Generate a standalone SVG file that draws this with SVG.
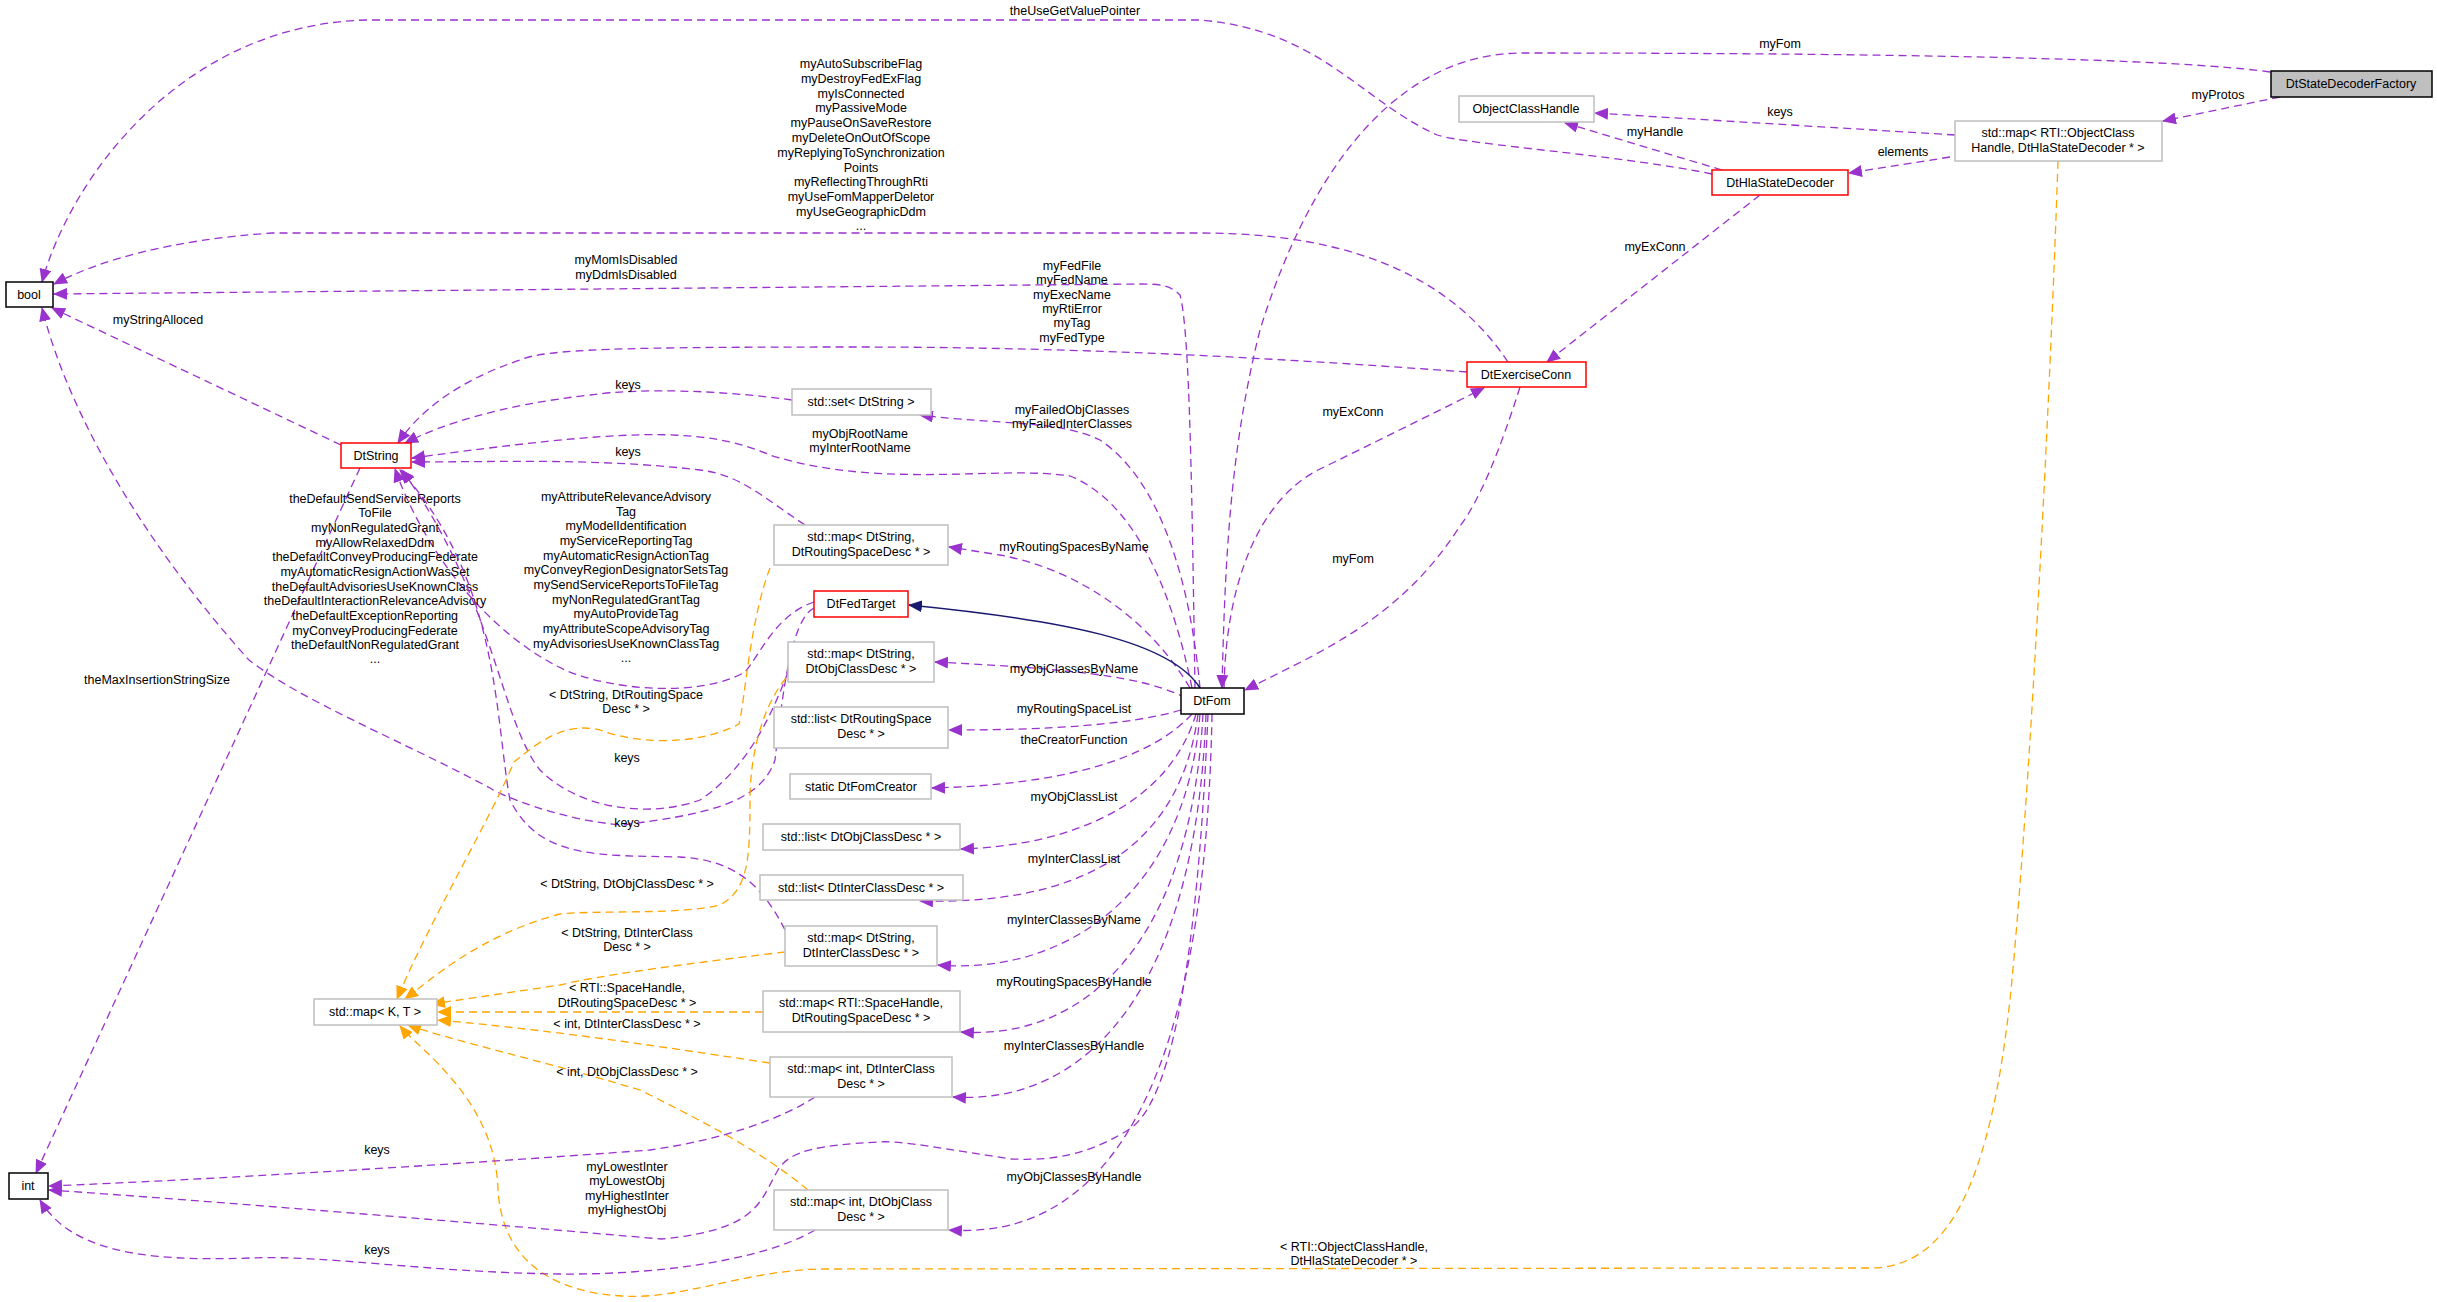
<svg xmlns="http://www.w3.org/2000/svg" width="2437" height="1302" viewBox="0 0 2437 1302">
<style>
text{font-family:"Liberation Sans",Arial,sans-serif;font-size:12.5px;fill:#000;text-anchor:middle}
.n{fill:#fff;stroke:#bfbfbf;stroke-width:1.5}
.r{fill:#fff;stroke:#ff0000;stroke-width:1.5}
.b{fill:#fff;stroke:#000;stroke-width:1.5}
.g{fill:#bfbfbf;stroke:#000;stroke-width:1.5}
.p{fill:none;stroke:#9a32cd;stroke-width:1.3;stroke-dasharray:8,5}
.o{fill:none;stroke:#ffa500;stroke-width:1.3;stroke-dasharray:8,5}
.i{fill:none;stroke:#191970;stroke-width:1.5}
</style>
<defs>
<marker id="ap" markerWidth="14" markerHeight="12" refX="13" refY="6" orient="auto" markerUnits="userSpaceOnUse"><path d="M0,0L14,6L0,12z" fill="#9a32cd"/></marker>
<marker id="ao" markerWidth="14" markerHeight="12" refX="13" refY="6" orient="auto" markerUnits="userSpaceOnUse"><path d="M0,0L14,6L0,12z" fill="#ffa500"/></marker>
<marker id="ai" markerWidth="14" markerHeight="12" refX="13" refY="6" orient="auto" markerUnits="userSpaceOnUse"><path d="M0,0L14,6L0,12z" fill="#191970"/></marker>
</defs>
<rect width="2437" height="1302" fill="#fff"/>
<g id="edges">
<path class="p" marker-end="url(#ap)" d="M2270,72C2150,55 1750,53 1520,53C1380,55 1300,200 1260,330C1230,450 1225,560 1222,688"/>
<text x="1780" y="48">myFom</text>
<path class="p" marker-end="url(#ap)" d="M2280,97L2163,121"/>
<text x="2218" y="99">myProtos</text>
<path class="p" marker-end="url(#ap)" d="M1955,135L1595,113"/>
<text x="1780" y="116">keys</text>
<path class="p" marker-end="url(#ap)" d="M1950,157L1849,173"/>
<text x="1903" y="156">elements</text>
<path class="p" marker-end="url(#ap)" d="M1722,170L1565,123"/>
<text x="1655" y="136">myHandle</text>
<path class="p" marker-end="url(#ap)" d="M1712,174C1620,155 1470,145 1437,135C1360,100 1320,30 1200,20L366,20C180,25 70,180 42,282"/>
<text x="1075" y="15">theUseGetValuePointer</text>
<path class="p" marker-end="url(#ap)" d="M1760,195L1547,362"/>
<text x="1655" y="251">myExConn</text>
<path class="p" marker-end="url(#ap)" d="M1508,362C1440,260 1320,233 1200,233L272,233C170,240 100,260 54,284"/>
<text x="861" y="68">myAutoSubscribeFlag</text><text x="861" y="83">myDestroyFedExFlag</text><text x="861" y="98">myIsConnected</text><text x="861" y="112">myPassiveMode</text><text x="861" y="127">myPauseOnSaveRestore</text><text x="861" y="142">myDeleteOnOutOfScope</text><text x="861" y="157">myReplyingToSynchronization</text><text x="861" y="172">Points</text><text x="861" y="186">myReflectingThroughRti</text><text x="861" y="201">myUseFomMapperDeletor</text><text x="861" y="216">myUseGeographicDdm</text><text x="861" y="230">...</text>
<path class="p" marker-end="url(#ap)" d="M1467,372C1300,360 1100,347 856,347C620,347 545,349 520,360C460,380 420,410 398,443"/>
<text x="1072" y="270">myFedFile</text><text x="1072" y="284">myFedName</text><text x="1072" y="299">myExecName</text><text x="1072" y="313">myRtiError</text><text x="1072" y="327">myTag</text><text x="1072" y="342">myFedType</text>
<path class="p" marker-end="url(#ap)" d="M1195,688C1192,500 1190,330 1180,295C1170,285 1160,284 1140,284L54,294"/>
<text x="626" y="264">myMomIsDisabled</text><text x="626" y="279">myDdmIsDisabled</text>
<path class="p" marker-end="url(#ap)" d="M341,445L52,308"/>
<text x="158" y="324">myStringAlloced</text>
<path class="p" marker-end="url(#ap)" d="M360,468L36,1173"/>
<text x="157" y="684">theMaxInsertionStringSize</text>
<path class="p" marker-end="url(#ap)" d="M792,400C720,390 640,388 590,395C500,405 440,425 405,443"/>
<text x="628" y="389">keys</text>
<path class="p" marker-end="url(#ap)" d="M1200,688C1190,580 1160,480 1100,440C1060,420 1000,425 920,415"/>
<text x="1072" y="414">myFailedObjClasses</text><text x="1072" y="428">myFailedInterClasses</text>
<path class="p" marker-end="url(#ap)" d="M1192,688C1170,580 1130,500 1070,476C1000,465 880,490 770,455C700,425 620,430 412,458"/>
<text x="860" y="438">myObjRootName</text><text x="860" y="452">myInterRootName</text>
<path class="p" marker-end="url(#ap)" d="M805,525C760,495 740,475 700,470C600,458 500,462 412,462"/>
<text x="628" y="456">keys</text>
<path class="p" marker-end="url(#ap)" d="M1190,688C1150,620 1080,570 1000,555L949,547"/>
<text x="1074" y="551">myRoutingSpacesByName</text>
<path class="i" marker-end="url(#ai)" d="M1200,688C1170,640 1060,620 909,605"/>
<path class="p" marker-end="url(#ap)" d="M814,602C775,615 760,655 745,672C700,698 610,690 565,670C480,630 420,540 395,469"/>
<text x="626" y="501">myAttributeRelevanceAdvisory</text><text x="626" y="516">Tag</text><text x="626" y="530">myModelIdentification</text><text x="626" y="545">myServiceReportingTag</text><text x="626" y="560">myAutomaticResignActionTag</text><text x="626" y="574">myConveyRegionDesignatorSetsTag</text><text x="626" y="589">mySendServiceReportsToFileTag</text><text x="626" y="604">myNonRegulatedGrantTag</text><text x="626" y="618">myAutoProvideTag</text><text x="626" y="633">myAttributeScopeAdvisoryTag</text><text x="626" y="648">myAdvisoriesUseKnownClassTag</text><text x="626" y="662">...</text>
<path class="p" marker-end="url(#ap)" d="M814,608C790,620 782,700 775,760C760,805 700,815 622,825C560,820 500,795 490,788C400,740 300,700 249,660C150,550 70,420 42,308"/>
<text x="375" y="503">theDefaultSendServiceReports</text><text x="375" y="517">ToFile</text><text x="375" y="532">myNonRegulatedGrant</text><text x="375" y="547">myAllowRelaxedDdm</text><text x="375" y="561">theDefaultConveyProducingFederate</text><text x="375" y="576">myAutomaticResignActionWasSet</text><text x="375" y="591">theDefaultAdvisoriesUseKnownClass</text><text x="375" y="605">theDefaultInteractionRelevanceAdvisory</text><text x="375" y="620">theDefaultExceptionReporting</text><text x="375" y="635">myConveyProducingFederate</text><text x="375" y="649">theDefaultNonRegulatedGrant</text><text x="375" y="663">...</text>
<path class="p" marker-end="url(#ap)" d="M788,672C770,720 745,770 700,800C650,818 580,810 540,770C500,720 495,600 402,470"/>
<text x="627" y="762">keys</text>
<path class="p" marker-end="url(#ap)" d="M785,930C760,880 730,860 680,857C600,855 540,860 510,800C495,720 500,580 400,470"/>
<text x="627" y="827">keys</text>
<path class="o" marker-end="url(#ao)" d="M770,568C750,620 745,700 739,724C700,745 640,745 600,730C560,720 530,750 514,762C490,820 430,920 397,999"/>
<text x="626" y="699">&lt; DtString, DtRoutingSpace</text><text x="626" y="713">Desc * &gt;</text>
<path class="o" marker-end="url(#ao)" d="M786,678C760,710 750,760 750,800C750,860 748,890 720,905C680,915 600,910 560,914C480,935 430,980 405,999"/>
<text x="627" y="888">&lt; DtString, DtObjClassDesc * &gt;</text>
<path class="o" marker-end="url(#ao)" d="M785,952C700,962 600,975 560,985L432,1004"/>
<text x="627" y="937">&lt; DtString, DtInterClass</text><text x="627" y="951">Desc * &gt;</text>
<path class="o" marker-end="url(#ao)" d="M763,1012L438,1012"/>
<text x="627" y="992">&lt; RTI::SpaceHandle,</text><text x="627" y="1007">DtRoutingSpaceDesc * &gt;</text>
<path class="o" marker-end="url(#ao)" d="M770,1063C650,1045 550,1030 438,1020"/>
<text x="627" y="1028">&lt; int, DtInterClassDesc * &gt;</text>
<path class="o" marker-end="url(#ao)" d="M808,1190C760,1150 700,1120 640,1090C540,1060 450,1040 408,1025"/>
<text x="627" y="1076">&lt; int, DtObjClassDesc * &gt;</text>
<path class="o" marker-end="url(#ao)" d="M2058,161C2050,400 2030,800 2010,1000C1990,1180 1950,1268 1870,1268L817,1269C740,1272 680,1300 622,1296C520,1290 500,1230 498,1189C495,1100 420,1050 400,1026"/>
<text x="1354" y="1251">&lt; RTI::ObjectClassHandle,</text><text x="1354" y="1265">DtHlaStateDecoder * &gt;</text>
<path class="p" marker-end="url(#ap)" d="M1186,698C1150,680 1100,670 935,662"/>
<text x="1074" y="673">myObjClassesByName</text>
<path class="p" marker-end="url(#ap)" d="M1181,710C1130,725 1050,730 949,730"/>
<text x="1074" y="713">myRoutingSpaceList</text>
<path class="p" marker-end="url(#ap)" d="M1192,714C1150,760 1060,785 932,788"/>
<text x="1074" y="744">theCreatorFunction</text>
<path class="p" marker-end="url(#ap)" d="M1196,714C1170,800 1080,845 961,849"/>
<text x="1074" y="801">myObjClassList</text>
<path class="p" marker-end="url(#ap)" d="M1198,714C1180,850 1080,905 920,901"/>
<text x="1074" y="863">myInterClassList</text>
<path class="p" marker-end="url(#ap)" d="M1200,714C1185,900 1060,975 938,965"/>
<text x="1074" y="924">myInterClassesByName</text>
<path class="p" marker-end="url(#ap)" d="M1203,714C1190,950 1080,1040 961,1032"/>
<text x="1074" y="986">myRoutingSpacesByHandle</text>
<path class="p" marker-end="url(#ap)" d="M1206,714C1195,1000 1080,1105 953,1097"/>
<text x="1074" y="1050">myInterClassesByHandle</text>
<path class="p" marker-end="url(#ap)" d="M1212,714C1205,1100 1100,1240 949,1230"/>
<text x="1074" y="1181">myObjClassesByHandle</text>
<path class="p" marker-end="url(#ap)" d="M1224,688C1226,580 1260,500 1318,470C1400,430 1450,405 1484,388"/>
<text x="1353" y="416">myExConn</text>
<path class="p" marker-end="url(#ap)" d="M1520,387C1500,450 1480,500 1460,526C1400,620 1320,652 1245,690"/>
<text x="1353" y="563">myFom</text>
<path class="p" marker-end="url(#ap)" d="M1208,714C1200,900 1180,1100 1128,1130C1080,1160 1040,1160 1012,1159C950,1150 900,1140 879,1142C820,1145 790,1150 778,1170C760,1200 760,1230 661,1239C500,1225 200,1200 49,1190"/>
<text x="627" y="1171">myLowestInter</text><text x="627" y="1185">myLowestObj</text><text x="627" y="1200">myHighestInter</text><text x="627" y="1214">myHighestObj</text>
<path class="p" marker-end="url(#ap)" d="M815,1097C780,1120 720,1140 650,1150C450,1165 200,1180 49,1186"/>
<text x="377" y="1154">keys</text>
<path class="p" marker-end="url(#ap)" d="M815,1230C760,1262 650,1275 560,1274C420,1272 330,1255 250,1258C140,1262 70,1250 40,1200"/>
<text x="377" y="1254">keys</text>
</g>
<g id="DtStateDecoderFactory"><rect class="g" x="2271" y="71" width="161" height="26"/><text x="2351" y="88">DtStateDecoderFactory</text></g>
<g id="ObjectClassHandle"><rect class="n" x="1459" y="96" width="135" height="26"/><text x="1526" y="113">ObjectClassHandle</text></g>
<g id="mapObjectClassHandle"><rect class="n" x="1955" y="121" width="207" height="40"/><text x="2058" y="137">std::map&lt; RTI::ObjectClass</text><text x="2058" y="152">Handle, DtHlaStateDecoder * &gt;</text></g>
<g id="DtHlaStateDecoder"><rect class="r" x="1712" y="170" width="136" height="25"/><text x="1780" y="187">DtHlaStateDecoder</text></g>
<g id="DtExerciseConn"><rect class="r" x="1467" y="362" width="119" height="25"/><text x="1526" y="379">DtExerciseConn</text></g>
<g id="bool"><rect class="b" x="6" y="282" width="47" height="25"/><text x="29" y="299">bool</text></g>
<g id="DtString"><rect class="r" x="341" y="443" width="70" height="25"/><text x="376" y="460">DtString</text></g>
<g id="setDtString"><rect class="n" x="792" y="389" width="139" height="26"/><text x="861" y="406">std::set&lt; DtString &gt;</text></g>
<g id="mapRoutingByName"><rect class="n" x="774" y="525" width="174" height="40"/><text x="861" y="541">std::map&lt; DtString,</text><text x="861" y="556">DtRoutingSpaceDesc * &gt;</text></g>
<g id="DtFedTarget"><rect class="r" x="814" y="591" width="94" height="26"/><text x="861" y="608">DtFedTarget</text></g>
<g id="mapObjByName"><rect class="n" x="788" y="642" width="146" height="40"/><text x="861" y="658">std::map&lt; DtString,</text><text x="861" y="673">DtObjClassDesc * &gt;</text></g>
<g id="DtFom"><rect class="b" x="1181" y="688" width="63" height="26"/><text x="1212" y="705">DtFom</text></g>
<g id="listRouting"><rect class="n" x="774" y="707" width="174" height="41"/><text x="861" y="723">std::list&lt; DtRoutingSpace</text><text x="861" y="738">Desc * &gt;</text></g>
<g id="DtFomCreator"><rect class="n" x="790" y="774" width="141" height="25"/><text x="861" y="791">static DtFomCreator</text></g>
<g id="listObj"><rect class="n" x="763" y="824" width="197" height="26"/><text x="861" y="841">std::list&lt; DtObjClassDesc * &gt;</text></g>
<g id="listInter"><rect class="n" x="760" y="875" width="203" height="25"/><text x="861" y="892">std::list&lt; DtInterClassDesc * &gt;</text></g>
<g id="mapInterByName"><rect class="n" x="785" y="926" width="152" height="40"/><text x="861" y="942">std::map&lt; DtString,</text><text x="861" y="957">DtInterClassDesc * &gt;</text></g>
<g id="mapSpaceHandle"><rect class="n" x="763" y="991" width="197" height="41"/><text x="861" y="1007">std::map&lt; RTI::SpaceHandle,</text><text x="861" y="1022">DtRoutingSpaceDesc * &gt;</text></g>
<g id="mapIntInter"><rect class="n" x="770" y="1057" width="182" height="40"/><text x="861" y="1073">std::map&lt; int, DtInterClass</text><text x="861" y="1088">Desc * &gt;</text></g>
<g id="mapIntObj"><rect class="n" x="774" y="1190" width="174" height="40"/><text x="861" y="1206">std::map&lt; int, DtObjClass</text><text x="861" y="1221">Desc * &gt;</text></g>
<g id="mapKT"><rect class="n" x="314" y="999" width="123" height="26"/><text x="375" y="1016">std::map&lt; K, T &gt;</text></g>
<g id="int"><rect class="b" x="9" y="1173" width="39" height="26"/><text x="28" y="1190">int</text></g>
</svg>
